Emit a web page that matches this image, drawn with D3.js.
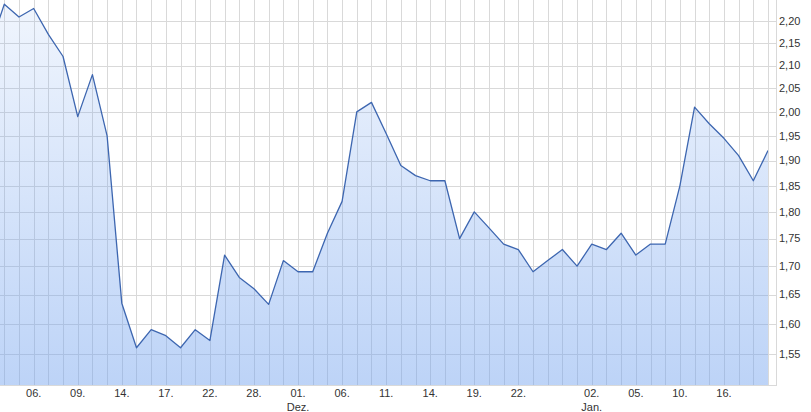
<!DOCTYPE html>
<html><head><meta charset="utf-8">
<script src="https://cdn.jsdelivr.net/npm/d3@7/dist/d3.min.js"></script>
<style>
html,body{margin:0;padding:0;background:#fff;}
svg{display:block;font-family:"Liberation Sans",Arial,sans-serif;}
</style></head>
<body><svg id="c" width="811" height="412"></svg>
<script>
// daily closing values (one per trading day)
const values = [2.14,2.24,2.21,2.23,2.17,2.12,1.99,2.08,1.95,1.635,
  1.56,1.59,1.58,1.56,1.59,1.572,1.72,1.68,1.66,1.633,
  1.71,1.69,1.69,1.76,1.82,2.00,2.02,1.955,1.89,1.87,
  1.86,1.86,1.75,1.80,1.77,1.74,1.73,1.69,1.71,1.73,
  1.70,1.74,1.73,1.76,1.72,1.74,1.74,1.85,2.01,1.975,
  1.945,1.91,1.86,1.92];
const xTickIdx = [3,6,9,12,15,18,21,24,27,30,33,36,41,44,47,50];
const xTickLabels = ["06.","09.","14.","17.","22.","28.","01.","06.","11.","14.","19.","22.","02.","05.","10.","16."];
const monthIdx = [21,41];
const monthLabels = ["Dez.","Jan."];
const yTicks = [1.55,1.60,1.65,1.70,1.75,1.80,1.85,1.90,1.95,2.00,2.05,2.10,2.15,2.20];

const W = 768, H = 385, AX = 776;
const svg = d3.select("#c");
const x = d3.scaleLinear().domain([1, values.length-1]).range([4.3, W]);
const y = d3.scaleLog().domain([1.5, 2.25]).range([H, 0]);
const fmt = v => d3.format(".2f")(v).replace(".", ",");

const defs = svg.append("defs");
defs.append("clipPath").attr("id","clip").append("rect").attr("x",0).attr("y",0).attr("width",W).attr("height",H);
const g = defs.append("linearGradient").attr("id","grad")
  .attr("gradientUnits","userSpaceOnUse").attr("x1",0).attr("y1",0).attr("x2",0).attr("y2",H);
g.append("stop").attr("offset","0%").attr("stop-color","#6fa0ee").attr("stop-opacity",0.1);
g.append("stop").attr("offset","100%").attr("stop-color","#6fa0ee").attr("stop-opacity",0.46);

// grid
const grid = svg.append("g");
grid.selectAll(".v").data(d3.range(1, values.length)).enter().append("line")
  .attr("x1", d => Math.round(x(d))+0.5).attr("x2", d => Math.round(x(d))+0.5)
  .attr("y1", 0).attr("y2", H).attr("stroke", "#d9d9d9").attr("stroke-width", 1);
grid.selectAll(".h").data(yTicks).enter().append("line")
  .attr("x1", 0).attr("x2", AX)
  .attr("y1", d => Math.round(y(d))+0.5).attr("y2", d => Math.round(y(d))+0.5)
  .attr("stroke", "#d9d9d9").attr("stroke-width", 1);
grid.append("line").attr("x1",0).attr("x2",AX).attr("y1",H+0.5).attr("y2",H+0.5).attr("stroke","#d9d9d9");
grid.append("line").attr("x1",AX+0.5).attr("x2",AX+0.5).attr("y1",0).attr("y2",H+1).attr("stroke","#d9d9d9");

const plot = svg.append("g").attr("clip-path","url(#clip)");
const area = d3.area().x((d,i)=>x(i)).y0(H).y1(d=>y(d));
const line = d3.line().x((d,i)=>x(i)).y(d=>y(d));
plot.append("path").datum(values).attr("d", area).attr("fill","url(#grad)");
plot.append("path").datum(values).attr("d", line).attr("fill","none")
  .attr("stroke","#3d66b0").attr("stroke-width",1.3).attr("stroke-linejoin","round");

// y labels
svg.append("g").selectAll("text").data(yTicks).enter().append("text")
  .attr("x", AX+3).attr("y", d => y(d)).attr("dy","0.35em")
  .attr("font-size","11px").attr("fill","#333").text(fmt);

// x labels
const xl = svg.append("g");
xl.selectAll(".t").data(xTickIdx).enter().append("text")
  .attr("x", d => x(d)).attr("y", H+12).attr("text-anchor","middle")
  .attr("font-size","11px").attr("fill","#333").text((d,i)=>xTickLabels[i]);
xl.selectAll(".m").data(monthIdx).enter().append("text")
  .attr("x", d => x(d)).attr("y", H+26).attr("text-anchor","middle")
  .attr("font-size","11px").attr("fill","#333").text((d,i)=>monthLabels[i]);
</script></body></html>
